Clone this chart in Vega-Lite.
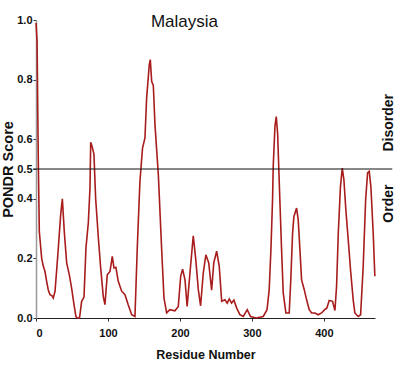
{
  "$schema": "https://vega.github.io/schema/vega-lite/v6.json",
  "width": 339,
  "height": 298,
  "autosize": {"type": "none"},
  "padding": {"left": 36, "top": 20, "right": 38, "bottom": 52},
  "background": "white",
  "title": {"text": "Malaysia", "font": "Liberation Sans, Arial, sans-serif", "fontSize": 17, "fontWeight": "normal", "color": "#111", "anchor": "middle", "dx": -21, "offset": -30, "baseline": "alphabetic"},
  "config": {"view": {"stroke": null}},
  "layer": [
    {
      "data": {"values": [
        {"residue": 0, "score": 0.99}, {"residue": 1.5, "score": 0.93}, {"residue": 2.5, "score": 0.68}, {"residue": 3.3, "score": 0.51},
        {"residue": 4.6, "score": 0.29}, {"residue": 7.9, "score": 0.2}, {"residue": 10, "score": 0.175}, {"residue": 12.5, "score": 0.156},
        {"residue": 14.8, "score": 0.123}, {"residue": 17, "score": 0.095}, {"residue": 19.4, "score": 0.078}, {"residue": 22, "score": 0.075}, {"residue": 24, "score": 0.067},
        {"residue": 26.4, "score": 0.089}, {"residue": 29, "score": 0.17}, {"residue": 31, "score": 0.235}, {"residue": 34.3, "score": 0.347},
        {"residue": 36.6, "score": 0.4}, {"residue": 39.3, "score": 0.29}, {"residue": 42.6, "score": 0.185}, {"residue": 46.3, "score": 0.145},
        {"residue": 49.5, "score": 0.1}, {"residue": 52.8, "score": 0.045}, {"residue": 55.5, "score": 0.005}, {"residue": 58, "score": 0.0},
        {"residue": 60.5, "score": 0.0}, {"residue": 63.4, "score": 0.056}, {"residue": 66.7, "score": 0.07}, {"residue": 69.4, "score": 0.235},
        {"residue": 72.7, "score": 0.32}, {"residue": 75, "score": 0.436}, {"residue": 76, "score": 0.59}, {"residue": 78, "score": 0.575},
        {"residue": 80.5, "score": 0.55}, {"residue": 82.9, "score": 0.4}, {"residue": 86.6, "score": 0.27}, {"residue": 89.8, "score": 0.17},
        {"residue": 93.5, "score": 0.072}, {"residue": 95.8, "score": 0.045}, {"residue": 99, "score": 0.145}, {"residue": 102.8, "score": 0.156},
        {"residue": 106, "score": 0.207}, {"residue": 108.3, "score": 0.168}, {"residue": 111, "score": 0.17}, {"residue": 114.3, "score": 0.123},
        {"residue": 119, "score": 0.09}, {"residue": 123.6, "score": 0.078}, {"residue": 128, "score": 0.045}, {"residue": 133, "score": 0.011},
        {"residue": 137.5, "score": 0.005}, {"residue": 140.7, "score": 0.235}, {"residue": 144.4, "score": 0.458}, {"residue": 148, "score": 0.57},
        {"residue": 151.4, "score": 0.604}, {"residue": 153.7, "score": 0.738}, {"residue": 157.4, "score": 0.85}, {"residue": 158.8, "score": 0.867},
        {"residue": 160.7, "score": 0.794}, {"residue": 163, "score": 0.78}, {"residue": 165.3, "score": 0.649}, {"residue": 170, "score": 0.48},
        {"residue": 174.5, "score": 0.235}, {"residue": 177.8, "score": 0.067}, {"residue": 181.5, "score": 0.017}, {"residue": 186, "score": 0.028},
        {"residue": 193, "score": 0.024}, {"residue": 197.7, "score": 0.039}, {"residue": 201, "score": 0.14}, {"residue": 203.7, "score": 0.164},
        {"residue": 207, "score": 0.128}, {"residue": 210, "score": 0.039}, {"residue": 213.9, "score": 0.151}, {"residue": 218.5, "score": 0.276},
        {"residue": 222, "score": 0.196}, {"residue": 225.5, "score": 0.095}, {"residue": 228.7, "score": 0.041}, {"residue": 232.4, "score": 0.151},
        {"residue": 236, "score": 0.212}, {"residue": 240, "score": 0.185}, {"residue": 244, "score": 0.093}, {"residue": 247, "score": 0.185},
        {"residue": 251, "score": 0.224}, {"residue": 254.6, "score": 0.173}, {"residue": 258, "score": 0.056}, {"residue": 262.5, "score": 0.061},
        {"residue": 265.7, "score": 0.05}, {"residue": 268.5, "score": 0.064}, {"residue": 271.7, "score": 0.05}, {"residue": 275, "score": 0.06},
        {"residue": 278.7, "score": 0.034}, {"residue": 283.3, "score": 0.011}, {"residue": 288, "score": 0.005}, {"residue": 293.5, "score": 0.028},
        {"residue": 298, "score": 0.005}, {"residue": 306, "score": 0.0}, {"residue": 315.7, "score": 0.005}, {"residue": 321, "score": 0.028},
        {"residue": 324, "score": 0.095}, {"residue": 326.4, "score": 0.23}, {"residue": 328.7, "score": 0.4}, {"residue": 329.6, "score": 0.509},
        {"residue": 332, "score": 0.643}, {"residue": 333.8, "score": 0.676}, {"residue": 335.7, "score": 0.62}, {"residue": 338, "score": 0.453},
        {"residue": 341.2, "score": 0.229}, {"residue": 343.5, "score": 0.084}, {"residue": 347.2, "score": 0.017}, {"residue": 351.8, "score": 0.017},
        {"residue": 354, "score": 0.128}, {"residue": 356.5, "score": 0.285}, {"residue": 358.3, "score": 0.34}, {"residue": 362, "score": 0.369},
        {"residue": 364.3, "score": 0.33}, {"residue": 366.7, "score": 0.229}, {"residue": 369, "score": 0.128}, {"residue": 372.7, "score": 0.095},
        {"residue": 376, "score": 0.061}, {"residue": 379.6, "score": 0.028}, {"residue": 383, "score": 0.017}, {"residue": 387.6, "score": 0.017},
        {"residue": 392, "score": 0.011}, {"residue": 396.8, "score": 0.017}, {"residue": 401, "score": 0.028}, {"residue": 404, "score": 0.033},
        {"residue": 407.4, "score": 0.059}, {"residue": 412, "score": 0.056}, {"residue": 415.3, "score": 0.025}, {"residue": 417.6, "score": 0.106},
        {"residue": 420, "score": 0.285}, {"residue": 423, "score": 0.44}, {"residue": 425.5, "score": 0.503}, {"residue": 427.8, "score": 0.464},
        {"residue": 430.5, "score": 0.363}, {"residue": 433.8, "score": 0.263}, {"residue": 437, "score": 0.162}, {"residue": 440.7, "score": 0.061},
        {"residue": 443, "score": 0.017}, {"residue": 447.7, "score": 0.005}, {"residue": 451, "score": 0.011}, {"residue": 454.6, "score": 0.173},
        {"residue": 458, "score": 0.397}, {"residue": 460.7, "score": 0.487}, {"residue": 463, "score": 0.492}, {"residue": 465.3, "score": 0.44},
        {"residue": 468.5, "score": 0.285}, {"residue": 470.8, "score": 0.14}
      ]},
      "mark": {"type": "line", "color": "#a81c1c", "strokeWidth": 1.6},
      "encoding": {
        "x": {"field": "residue", "type": "quantitative",
          "scale": {"domain": [0, 471], "nice": false, "zero": false},
          "axis": {"values": [0, 50, 100, 150, 200, 250, 300, 350, 400, 450],
            "labelExpr": "datum.value % 100 === 0 ? datum.label : ''",
            "grid": false, "tickSize": 3, "tickColor": "#333", "domainColor": "#222", "domainWidth": 1.2,
            "labelPadding": 6, "labelFont": "Liberation Sans, Arial, sans-serif", "labelFontSize": 11, "labelFontWeight": "bold", "labelColor": "#111",
            "title": "Residue Number", "titleFont": "Liberation Sans, Arial, sans-serif", "titleFontSize": 12.5, "titleFontWeight": "bold", "titleColor": "#111", "titlePadding": 10}},
        "y": {"field": "score", "type": "quantitative",
          "scale": {"domain": [0, 1], "nice": false},
          "axis": {"values": [0, 0.2, 0.4, 0.5, 0.6, 0.8, 1.0], "format": ".1f",
            "grid": false, "tickSize": 3, "tickColor": "#333", "domainColor": "#999", "domainWidth": 1.5,
            "labelPadding": 1, "labelFont": "Liberation Sans, Arial, sans-serif", "labelFontSize": 11, "labelFontWeight": "bold", "labelColor": "#111",
            "title": "PONDR Score", "titleFont": "Liberation Sans, Arial, sans-serif", "titleFontSize": 14.5, "titleFontWeight": "bold", "titleColor": "#111", "titlePadding": 1}}
      }
    },
    {
      "data": {"values": [{"x": -4, "x2": 495, "y": 0.5}]},
      "mark": {"type": "rule", "color": "#111", "strokeWidth": 1},
      "encoding": {
        "x": {"field": "x", "type": "quantitative"},
        "x2": {"field": "x2"},
        "y": {"field": "y", "type": "quantitative"}
      }
    },
    {
      "data": {"values": [{"label": "Disorder", "x": 490, "y": 0.655}, {"label": "Order", "x": 490, "y": 0.384}]},
      "mark": {"type": "text", "angle": 270, "font": "Liberation Sans, Arial, sans-serif", "fontSize": 14, "fontWeight": "bold", "color": "#111", "align": "center", "baseline": "middle"},
      "encoding": {
        "x": {"field": "x", "type": "quantitative"},
        "y": {"field": "y", "type": "quantitative"},
        "text": {"field": "label"}
      }
    }
  ]
}
